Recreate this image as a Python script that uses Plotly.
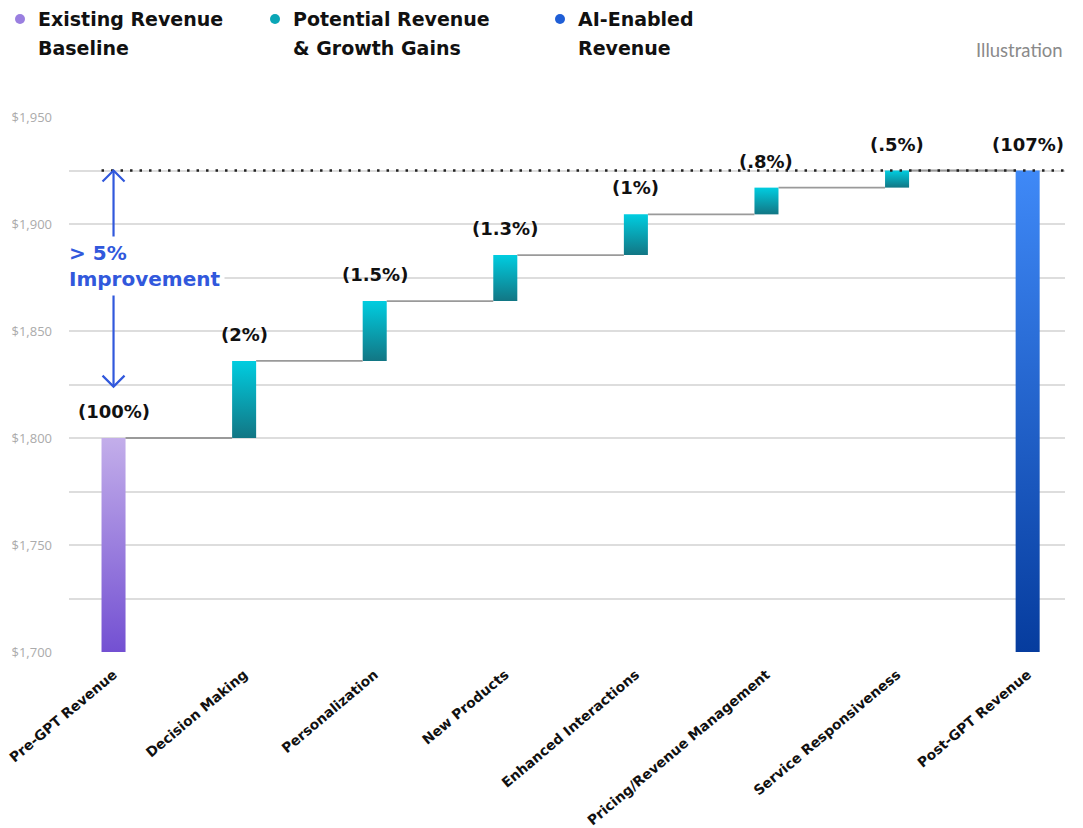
import plotly.graph_objects as go

# ---------------- data ----------------
categories = [
    "Pre-GPT Revenue", "Decision Making", "Personalization", "New Products",
    "Enhanced Interactions", "Pricing/Revenue Management",
    "Service Responsiveness", "Post-GPT Revenue",
]
baseline_value = 1800
gains = [36, 28, 21.5, 19, 12.5, 8]
pct_labels = ["(100%)", "(2%)", "(1.5%)", "(1.3%)", "(1%)", "(.8%)", "(.5%)", "(107%)"]
y_floor = 1700
y_ceiling = 1950
y_tick_vals = [1700, 1750, 1800, 1850, 1900, 1950]
y_tick_text = ["$1,700", "$1,750", "$1,800", "$1,850", "$1,900", "$1,950"]
legend_lines = [
    ("Existing Revenue", "Baseline"),
    ("Potential Revenue", "& Growth Gains"),
    ("AI-Enabled", "Revenue"),
]
improvement_text = "> 5%<br>Improvement"
improvement_low = 1824
note_text = "Illustration"

# ---------------- derived ----------------
post_value = baseline_value + sum(gains)
bases, tops, kinds = [y_floor], [baseline_value], ["base"]
run = baseline_value
for g in gains:
    bases.append(run)
    run += g
    tops.append(run)
    kinds.append("gain")
bases.append(y_floor)
tops.append(post_value)
kinds.append("total")

grad = {
    "base": ("#7350d2", "#c3aeea"),
    "gain": ("#127684", "#00cde0"),
    "total": ("#063c9e", "#3f89f7"),
}
legend_dot = {"base": "#9a7fe0", "gain": "#0aa6b6", "total": "#1f5ed6"}
blue = "#3158dc"
W = 0.184  # bar width in category units

fig = go.Figure()

for i, (b, t, k) in enumerate(zip(bases, tops, kinds)):
    fig.add_trace(go.Scatter(
        x=[i - W / 2, i + W / 2, i + W / 2, i - W / 2, i - W / 2],
        y=[b, b, t, t, b],
        mode="lines", fill="toself", line=dict(width=0),
        fillgradient=dict(type="vertical",
                          colorscale=[[0, grad[k][0]], [1, grad[k][1]]]),
        hoverinfo="skip", showlegend=False,
    ))

# connectors
cx, cy = [], []
for i in range(len(categories) - 1):
    cx += [i + W / 2, i + 1 - W / 2, None]
    cy += [tops[i], tops[i], None]
fig.add_trace(go.Scatter(x=cx, y=cy, mode="lines",
                         line=dict(color="#9a9a9a", width=1.8),
                         hoverinfo="skip", showlegend=False))

# dotted target line
fig.add_shape(type="line", xref="x", yref="y",
              x0=-W / 2, x1=7.29, y0=post_value, y1=post_value,
              line=dict(color="#222", width=2.5, dash="2.5px,7px"))

# percent labels
for i, lab in enumerate(pct_labels):
    fig.add_annotation(x=i, y=tops[i], text=lab, showarrow=False,
                       yanchor="bottom", yshift=14,
                       font=dict(family="DejaVu Sans", size=18, color="#111",
                                 weight="bold"))

# double arrow: shaft + open chevrons
fig.add_shape(type="line", xref="x", yref="y", x0=0, x1=0,
              y0=improvement_low, y1=post_value,
              line=dict(color=blue, width=2.2))
fig.add_shape(type="path", xref="x", yref="y", xsizemode="pixel",
              ysizemode="pixel", xanchor=0, yanchor=post_value,
              path="M-11,-11 L0,0 L11,-11", line=dict(color=blue, width=2.2))
fig.add_shape(type="path", xref="x", yref="y", xsizemode="pixel",
              ysizemode="pixel", xanchor=0, yanchor=improvement_low,
              path="M-11,11 L0,0 L11,11", line=dict(color=blue, width=2.2))

# ---------------- pixel helpers for layout placement ----------------
L, R, T, B = 69, 1065, 117, 652
def px_x(p):
    return (p - L) / (R - L)
def px_y(p):
    return (B - p) / (B - T)

fig.add_annotation(x=px_x(64), xref="paper", y=px_y(266), yref="paper",
                   text=improvement_text, showarrow=False, xanchor="left",
                   yanchor="middle", align="left", bgcolor="white", borderpad=4,
                   font=dict(family="DejaVu Sans", size=20, color=blue,
                             weight="bold"))

# ---------------- custom legend ----------------
legend_x_text = [38, 293, 578]
for (l1, l2), xt, k in zip(legend_lines, legend_x_text, ["base", "gain", "total"]):
    fig.add_annotation(xref="paper", yref="paper", x=px_x(xt - 2), y=px_y(19),
                       text=l1, showarrow=False, xanchor="left", yanchor="middle",
                       font=dict(family="DejaVu Sans", size=19, color="#111",
                                 weight="bold"))
    fig.add_annotation(xref="paper", yref="paper", x=px_x(xt - 2), y=px_y(48),
                       text=l2, showarrow=False, xanchor="left", yanchor="middle",
                       font=dict(family="DejaVu Sans", size=19, color="#111",
                                 weight="bold"))
    fig.add_shape(type="circle", xref="paper", yref="paper",
                  x0=px_x(xt - 23), x1=px_x(xt - 13), y0=px_y(24), y1=px_y(14),
                  fillcolor=legend_dot[k], line=dict(width=0))

fig.add_annotation(xref="paper", yref="paper", x=1, y=px_y(50), text=note_text,
                   showarrow=False, xanchor="right", yanchor="middle",
                   font=dict(family="Lato", size=18.5, color="#8a8a8a"))

fig.update_layout(
    width=1083, height=828,
    margin=dict(l=L, r=1083 - R, t=T, b=828 - B, autoexpand=False),
    paper_bgcolor="white", plot_bgcolor="white",
    showlegend=False,
    xaxis=dict(range=[-0.341, 7.286], tickvals=list(range(len(categories))),
               ticktext=categories, tickangle=-40, showgrid=False,
               zeroline=False, showline=False, ticks="", automargin=False,
               ticklabelstandoff=11,
               tickfont=dict(family="DejaVu Sans", size=13.8, color="#111",
                             weight="bold")),
    yaxis=dict(range=[y_floor, y_ceiling], tickvals=y_tick_vals,
               ticktext=y_tick_text, showgrid=True, gridcolor="#dddddd",
               gridwidth=1.5, zeroline=False, showline=False, ticks="",
               automargin=False, ticklabelstandoff=16,
               minor=dict(dtick=25, showgrid=True, gridcolor="#dddddd",
                          gridwidth=1.5),
               tickfont=dict(family="Open Sans", size=13, color="#ababab")),
)

fig.write_html("out.html")
